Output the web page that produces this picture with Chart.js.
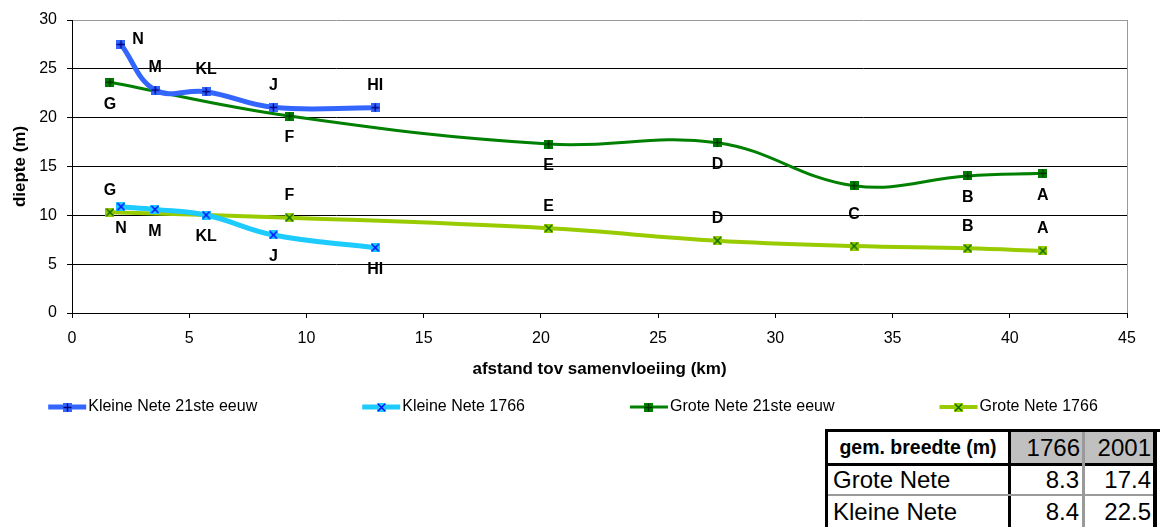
<!DOCTYPE html>
<html>
<head>
<meta charset="utf-8">
<script src="https://cdn.jsdelivr.net/npm/chart.js@4/dist/chart.umd.min.js"></script>
<style>
html, body { margin: 0; padding: 0; background: #fff; overflow: hidden; }
#wrap { position: relative; width: 1162px; height: 527px; overflow: hidden; }
canvas { display: block; }
.cell { position: absolute; display: flex; align-items: center; box-sizing: border-box; white-space: nowrap; font-family: "Liberation Sans", Arial, sans-serif; color: #000; }
.line { position: absolute; }
</style>
</head>
<body>
<div id="wrap">
  <canvas id="c" width="1162" height="527"></canvas>
  <div id="tbl"></div>
</div>
<script>
// ---------------- data ----------------
const xTickValues = [0, 5, 10, 15, 20, 25, 30, 35, 40, 45];
const yTickValues = [0, 5, 10, 15, 20, 25, 30];

const seriesNames = ['Kleine Nete 21ste eeuw', 'Kleine Nete 1766', 'Grote Nete 21ste eeuw', 'Grote Nete 1766'];

const kleine21X = [2.09, 3.55, 5.72, 8.59, 12.93];
const kleine21Y = [27.5, 22.83, 22.66, 21.06, 21.02];
const kleine21Labels = ['N', 'M', 'KL', 'J', 'HI'];

const kleine1766X = [2.09, 3.54, 5.72, 8.59, 12.93];
const kleine1766Y = [10.88, 10.61, 10.03, 7.99, 6.69];
const kleine1766Labels = ['N', 'M', 'KL', 'J', 'HI'];

const grote21X = [1.62, 9.27, 20.33, 27.53, 33.36, 38.21, 41.41];
const grote21Y = [23.62, 20.17, 17.30, 17.44, 13.03, 14.03, 14.30];
const grote21Labels = ['G', 'F', 'E', 'D', 'C', 'B', 'A'];

const grote1766X = [1.62, 9.27, 20.33, 27.53, 33.36, 38.21, 41.41];
const grote1766Y = [10.31, 9.76, 8.67, 7.40, 6.86, 6.62, 6.35];
const grote1766Labels = ['G', 'F', 'E', 'D', '', 'B', 'A'];

const tableHead = ['gem. breedte (m)', '1766', '2001'];
const tableRowNames = ['Grote Nete', 'Kleine Nete'];
const width1766 = [8.3, 8.4];
const width2001 = [17.4, 22.5];

// ---------------- styles ----------------
const FONT = '"Liberation Sans", Arial, sans-serif';
Chart.defaults.font.family = FONT;
Chart.defaults.color = '#000';

// label offsets (style, not data)
const ABOVE = [0, -22], BELOW = [0, 22];
const kleine21LabelPos = [[17, -5], ABOVE, ABOVE, ABOVE, ABOVE];
const kleine1766LabelPos = [BELOW, BELOW, BELOW, BELOW, BELOW];
const grote21LabelPos = [BELOW, BELOW, BELOW, BELOW, [0, 29], BELOW, BELOW];
const grote1766LabelPos = [ABOVE, ABOVE, ABOVE, ABOVE, ABOVE, ABOVE, ABOVE];

function makeMarker(fill, stroke, kind) {
  const c = document.createElement('canvas');
  c.width = 9; c.height = 9;
  const g = c.getContext('2d');
  g.fillStyle = fill;
  g.fillRect(0, 0, 9, 9);
  g.strokeStyle = stroke;
  g.lineWidth = 1.4;
  g.beginPath();
  if (kind === '+') {
    g.moveTo(4.5, 0.5); g.lineTo(4.5, 8.5);
    g.moveTo(0.5, 4.5); g.lineTo(8.5, 4.5);
  } else {
    g.moveTo(1, 1); g.lineTo(8, 8);
    g.moveTo(8, 1); g.lineTo(1, 8);
  }
  g.stroke();
  return c;
}

function pts(xs, ys) { return xs.map((x, i) => ({ x: x, y: ys[i] })); }

const datasets = [
  { label: seriesNames[0], data: pts(kleine21X, kleine21Y), borderColor: '#3366FF', borderWidth: 5,
    pointStyle: makeMarker('#3366FF', '#000080', '+'), ptLabels: kleine21Labels, ptLabelPos: kleine21LabelPos },
  { label: seriesNames[1], data: pts(kleine1766X, kleine1766Y), borderColor: '#1ECBFF', borderWidth: 5,
    pointStyle: makeMarker('#1ECBFF', '#0000FF', 'x'), ptLabels: kleine1766Labels, ptLabelPos: kleine1766LabelPos },
  { label: seriesNames[2], data: pts(grote21X, grote21Y), borderColor: '#008000', borderWidth: 3,
    pointStyle: makeMarker('#008000', '#003300', '+'), ptLabels: grote21Labels, ptLabelPos: grote21LabelPos },
  { label: seriesNames[3], data: pts(grote1766X, grote1766Y), borderColor: '#99CC00', borderWidth: 4,
    pointStyle: makeMarker('#99CC00', '#006600', 'x'), ptLabels: grote1766Labels, ptLabelPos: grote1766LabelPos }
];
datasets.forEach(d => {
  d.fill = false; d.tension = 0.4; d.pointRadius = 4; d.pointHoverRadius = 4;
  d.backgroundColor = d.borderColor;
});

const pointLabelPlugin = {
  id: 'pointLabels',
  afterDatasetsDraw(chart) {
    const ctx = chart.ctx;
    ctx.save();
    ctx.font = 'bold 16px ' + FONT;
    ctx.fillStyle = '#000';
    ctx.textAlign = 'center';
    ctx.textBaseline = 'middle';
    chart.data.datasets.forEach((ds, di) => {
      const meta = chart.getDatasetMeta(di);
      meta.data.forEach((p, i) => {
        const t = ds.ptLabels[i];
        if (!t) return;
        const off = ds.ptLabelPos[i];
        ctx.fillText(t, p.x + off[0], p.y + off[1]);
      });
    });
    ctx.restore();
  }
};

const legendPlugin = {
  id: 'manualLegend',
  afterDraw(chart) {
    const ctx = chart.ctx;
    const y = 407, symW = 38, textGap = 2, gap = 105, center = 573;
    ctx.save();
    ctx.font = '16px ' + FONT;
    const items = chart.data.datasets.map(d => ({ d: d, w: ctx.measureText(d.label).width }));
    let total = 0;
    items.forEach((it, i) => { total += symW + textGap + it.w + (i < items.length - 1 ? gap : 0); });
    let x = center - total / 2;
    items.forEach(it => {
      const d = it.d;
      ctx.strokeStyle = d.borderColor;
      ctx.lineWidth = d.borderWidth;
      ctx.beginPath();
      ctx.moveTo(x, y); ctx.lineTo(x + symW, y);
      ctx.stroke();
      const img = d.pointStyle;
      ctx.drawImage(img, Math.round(x + symW / 2 - img.width / 2), Math.round(y - img.height / 2));
      ctx.fillStyle = '#000';
      ctx.textAlign = 'left';
      ctx.textBaseline = 'middle';
      ctx.fillText(d.label, x + symW + textGap, y);
      x += symW + textGap + it.w + gap;
    });
    ctx.restore();
  }
};

new Chart(document.getElementById('c'), {
  type: 'line',
  data: { datasets: datasets },
  plugins: [pointLabelPlugin, legendPlugin],
  options: {
    responsive: false,
    animation: false,
    events: [],
    layout: { padding: { top: 20, right: 35, bottom: 139, left: 0 } },
    plugins: { legend: { display: false }, tooltip: { enabled: false } },
    scales: {
      x: {
        type: 'linear', min: 0, max: 45,
        afterBuildTicks: s => { s.ticks = xTickValues.map(v => ({ value: v })); },
        ticks: { color: '#000', font: { size: 16 }, padding: 11, maxRotation: 0 },
        grid: {
          drawOnChartArea: true, tickLength: 5, tickColor: '#000',
          color: c => (c.tick && c.tick.value === 45) ? '#999999' : 'rgba(0,0,0,0)'
        },
        border: { color: '#000', width: 1 },
        title: { display: true, text: 'afstand tov samenvloeiing (km)', color: '#000',
                 font: { size: 17, weight: 'bold' }, padding: { top: 0, bottom: 8 } },
        afterFit: s => { s.height = 75; }
      },
      y: {
        min: 0, max: 30,
        afterBuildTicks: s => { s.ticks = yTickValues.map(v => ({ value: v })); },
        ticks: { color: '#000', font: { size: 16 }, padding: 10 },
        grid: {
          tickLength: 5, tickColor: '#000',
          color: c => (c.tick && c.tick.value === 30) ? '#999999' : '#000000'
        },
        border: { color: '#000', width: 1 },
        title: { display: true, text: 'diepte (m)', color: '#000',
                 font: { size: 17, weight: 'bold' }, padding: { top: 10, bottom: 0 } },
        afterFit: s => { s.width = 72; }
      }
    }
  }
});

// ---------------- table ----------------
(function buildTable() {
  const root = document.getElementById('tbl');
  function add(cls, css, text) {
    const el = document.createElement('div');
    el.className = cls;
    el.style.cssText = css;
    if (text !== undefined) el.textContent = text;
    root.appendChild(el);
    return el;
  }
  // white background
  add('line', 'left:825px;top:429px;width:335px;height:110px;background:#fff;');
  // header gray cells
  add('line', 'left:1011px;top:432px;width:142px;height:31px;background:#C0C0C0;');
  // header texts
  add('cell', 'left:828px;top:432px;width:180px;height:31px;justify-content:center;font-weight:bold;font-size:19.5px;', tableHead[0]);
  add('cell', 'left:1011px;top:432px;width:71px;height:31px;justify-content:flex-end;padding-right:2px;font-size:24px;', tableHead[1]);
  add('cell', 'left:1085px;top:432px;width:68px;height:31px;justify-content:flex-end;padding-right:2px;font-size:24px;', tableHead[2]);
  // rows
  const rowTops = [466, 496];
  const rowH = [28, 32];
  tableRowNames.forEach((n, i) => {
    add('cell', `left:828px;top:${rowTops[i]}px;width:180px;height:${rowH[i]}px;justify-content:flex-start;padding-left:5px;font-size:24px;`, n);
    add('cell', `left:1011px;top:${rowTops[i]}px;width:71px;height:${rowH[i]}px;justify-content:flex-end;padding-right:3px;font-size:24px;`, width1766[i].toFixed(1));
    add('cell', `left:1085px;top:${rowTops[i]}px;width:68px;height:${rowH[i]}px;justify-content:flex-end;padding-right:2px;font-size:24px;`, width2001[i].toFixed(1));
  });
  // grid lines
  add('line', 'left:825px;top:429px;width:335px;height:3px;background:#000;');   // top
  add('line', 'left:825px;top:429px;width:3px;height:110px;background:#000;');   // left
  add('line', 'left:1153px;top:429px;width:4px;height:110px;background:#000;');  // right
  add('line', 'left:825px;top:463px;width:332px;height:3px;background:#000;');   // header bottom
  add('line', 'left:1008px;top:429px;width:3px;height:110px;background:#000;');  // col 1 separator
  add('line', 'left:1082px;top:432px;width:3px;height:110px;background:#9a9a9a;'); // col 2 separator
  add('line', 'left:828px;top:494px;width:325px;height:2px;background:#9a9a9a;');  // row separator
})();
</script>
</body>
</html>
